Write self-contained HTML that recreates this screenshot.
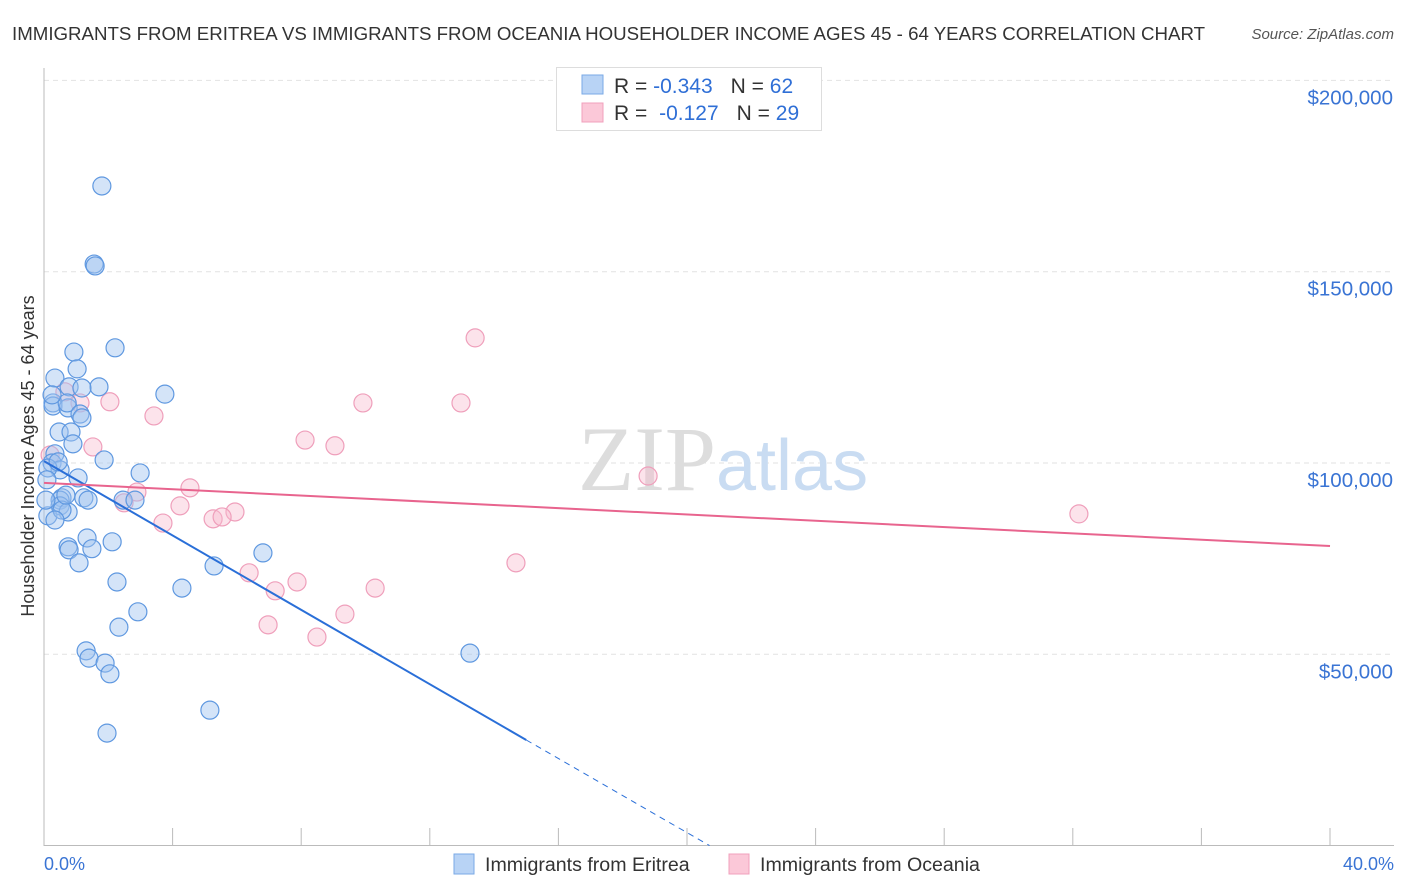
<!DOCTYPE html>
<html><head><meta charset="utf-8"><style>
body{margin:0;background:#fff;font-family:"Liberation Sans",sans-serif;}
#wrap{position:relative;width:1406px;height:892px;overflow:hidden;}
</style></head><body>
<div id="wrap">
<svg id="svg" width="1406" height="892" xmlns="http://www.w3.org/2000/svg">
<text x="12" y="40" font-size="18.7" fill="#333">IMMIGRANTS FROM ERITREA VS IMMIGRANTS FROM OCEANIA HOUSEHOLDER INCOME AGES 45 - 64 YEARS CORRELATION CHART</text>
<text x="1394" y="39" font-size="15" fill="#555" font-style="italic" text-anchor="end">Source: ZipAtlas.com</text>
<text x="34" y="456" font-size="18" fill="#333" text-anchor="middle" transform="rotate(-90 34 456)">Householder Income Ages 45 - 64 years</text>
<g id="grid"></g>
<text x="716" y="490" font-size="92" fill="#ddd" font-family="Liberation Serif,serif" text-anchor="end">ZIP</text>
<text x="716" y="490" font-size="72" fill="#c9dcf2" text-anchor="start">atlas</text>
<g id="marks"></g>
<g>
<rect x="556.5" y="67.5" width="265" height="63" fill="#fff" stroke="#ddd"/>
<rect x="582" y="75" width="21" height="19" fill="#b8d3f5" stroke="#7aa9e6"/>
<rect x="582" y="103" width="21" height="19" fill="#fbc8d8" stroke="#f0a0bc"/>
<text x="614" y="93" font-size="21" fill="#333">R = <tspan fill="#2f6fd6">-0.343</tspan><tspan dx="18">N = </tspan><tspan fill="#2f6fd6">62</tspan></text>
<text x="614" y="120" font-size="21" fill="#333">R = <tspan dx="6" fill="#2f6fd6">-0.127</tspan><tspan dx="18">N = </tspan><tspan fill="#2f6fd6">29</tspan></text>
</g>
<text x="44" y="870" font-size="18" fill="#3a74d4">0.0%</text>
<text x="1394" y="870" font-size="18" fill="#3a74d4" text-anchor="end">40.0%</text>
<g>
<rect x="454" y="854" width="20" height="20" fill="#b8d3f5" stroke="#7aa9e6"/>
<text x="485" y="871" font-size="19.6" fill="#333">Immigrants from Eritrea</text>
<rect x="729" y="854" width="20" height="20" fill="#fbc8d8" stroke="#f0a0bc"/>
<text x="760" y="871" font-size="19.6" fill="#333">Immigrants from Oceania</text>
</g>
</svg>
</div>
<script>
const yTicks=[50000,100000,150000,200000];
const yTickLabels=["$50,000","$100,000","$150,000","$200,000"];
const xTicks=[0,4,8,12,16,20,24,28,32,36,40];
const eritreaX=[1.80,1.56,1.59,0.93,2.21,0.34,1.03,0.78,1.71,1.18,3.76,0.28,0.28,0.75,0.72,1.12,1.18,0.47,0.84,0.90,0.34,0.25,0.50,0.12,1.06,1.87,2.99,0.09,0.56,0.50,1.24,0.50,0.75,0.12,2.46,2.83,1.34,2.12,0.75,0.78,1.49,1.09,6.81,5.29,2.27,4.29,2.92,2.33,1.31,1.40,1.90,2.05,13.25,5.16,1.96,0.56,0.34,0.68,0.06,0.44,0.25,1.37];
const eritreaY=[172.4,152.0,151.5,129.0,130.1,122.2,124.6,119.9,119.9,119.6,118.0,115.7,114.9,114.4,115.7,112.8,111.8,108.1,108.1,105.0,102.4,100.0,98.2,98.7,96.1,100.8,97.4,95.6,90.9,90.3,90.9,88.8,87.2,86.2,90.3,90.3,80.4,79.4,78.1,77.3,77.6,73.9,76.5,73.1,68.9,67.3,61.1,57.1,50.9,49.0,47.7,44.9,50.3,35.4,29.4,87.7,85.1,91.6,90.3,100.3,117.8,90.3];
const oceaniaX=[13.41,3.42,2.05,1.12,0.65,9.92,12.97,8.12,9.05,1.52,0.19,18.79,4.54,2.89,4.23,2.49,5.94,5.26,5.54,3.70,32.19,14.68,6.38,7.87,7.19,10.30,9.36,6.97,8.49];
const oceaniaY=[132.7,112.3,116.0,115.7,118.6,115.7,115.7,106.0,104.5,104.2,102.1,96.6,93.5,92.4,88.8,89.6,87.2,85.4,85.9,84.3,86.7,73.9,71.3,68.9,66.6,67.3,60.5,57.7,54.5];
const eritreaTrend=[[0,100.5],[15,27.6],[20.7,0]];
const oceaniaTrend=[[0,94.8],[40,78.3]];

const NS="http://www.w3.org/2000/svg";
const X0=44,X1=1330,YB=845.6,PX_PER_K=191.3/50;
const sx=v=>X0+(X1-X0)*v/40;
const sy=k=>YB-k*PX_PER_K;
function mk(tag,attrs,parent){const e=document.createElementNS(NS,tag);for(const k in attrs)e.setAttribute(k,attrs[k]);parent.appendChild(e);return e;}
const grid=document.getElementById('grid'),marks=document.getElementById('marks');
yTicks.forEach((t,i)=>{
 const y=sy(t/1000);
 const l=mk('line',{x1:44,x2:1394,y1:y,y2:y,stroke:'#e2e2e2','stroke-dasharray':'5,4'},grid);
 
 
 const tx=mk('text',{x:1393,y:y+24,'font-size':20.5,fill:'#3a74d4','text-anchor':'end'},grid);
 tx.textContent=yTickLabels[i];
 
 
});
const ax=mk('line',{x1:44,x2:44,y1:68,y2:846,stroke:'#bbb'},grid);


const bx=mk('line',{x1:44,x2:1394,y1:845.5,y2:845.5,stroke:'#bbb'},grid);


xTicks.forEach(t=>{const x=sx(t);
 const l=mk('line',{x1:x,x2:x,y1:828,y2:846,stroke:'#bbb'},grid);
 
 
});
function pts(xs,ys,fill,stroke,name){
 xs.forEach((v,i)=>{
  const c=mk('circle',{cx:sx(v),cy:sy(ys[i]),r:9,fill:fill,stroke:stroke,'stroke-width':1.2},marks);
  
  
 });
}
pts(oceaniaX,oceaniaY,'rgba(248,185,205,0.4)','#ef9fbb','point-oceania');
pts(eritreaX,eritreaY,'rgba(160,196,240,0.45)','#5f98e0','point-eritrea');
const e=eritreaTrend;
const l1=mk('line',{x1:sx(e[0][0]),y1:sy(e[0][1]),x2:sx(e[1][0]),y2:sy(e[1][1]),stroke:'#2a6fd8','stroke-width':2},marks);


const l2=mk('line',{x1:sx(e[1][0]),y1:sy(e[1][1]),x2:sx(e[2][0]),y2:sy(e[2][1]),stroke:'#2a6fd8','stroke-width':1,'stroke-dasharray':'6,5'},marks);


const o=oceaniaTrend;
const l3=mk('line',{x1:sx(o[0][0]),y1:sy(o[0][1]),x2:sx(o[1][0]),y2:sy(o[1][1]),stroke:'#e8648e','stroke-width':2},marks);


</script>
</body></html>
